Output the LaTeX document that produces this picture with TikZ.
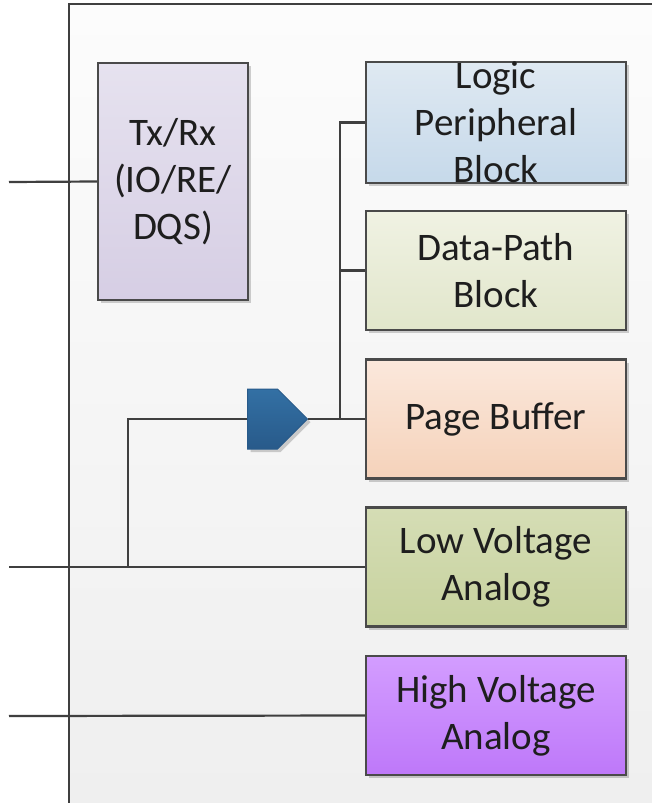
\documentclass[tikz,border=0pt]{standalone}
\usepackage{fontspec}
\setmainfont{Carlito}
\usetikzlibrary{shadows,shapes.symbols}
\definecolor{wirecol}{HTML}{3F3F3F}
\definecolor{boxline}{HTML}{4A4A4A}
\definecolor{txtop}{HTML}{E6E2EF}
\definecolor{txbot}{HTML}{D6CEE4}
\definecolor{lgtop}{HTML}{DFE9F2}
\definecolor{lgbot}{HTML}{C6D9EA}
\definecolor{dptop}{HTML}{F0F2E3}
\definecolor{dpbot}{HTML}{E1E6CB}
\definecolor{pbtop}{HTML}{FBE8DC}
\definecolor{pbbot}{HTML}{F5D2BA}
\definecolor{lvtop}{HTML}{D5DDB5}
\definecolor{lvbot}{HTML}{C7D29E}
\definecolor{hvtop}{HTML}{D39DFF}
\definecolor{hvbot}{HTML}{BE78F9}
\definecolor{amptop}{HTML}{3370A4}
\definecolor{ampbot}{HTML}{285A8A}
\definecolor{bgtop}{HTML}{FCFCFC}
\definecolor{bgbot}{HTML}{EFEFEF}
\definecolor{txtcol}{HTML}{1E1E1E}
\tikzset{
  blockbox/.style={draw=boxline, line width=2.2pt, minimum width=260pt, minimum height=119pt,
    inner sep=0pt, align=center, text=txtcol, font=\fontsize{39}{47}\selectfont,
    drop shadow={shadow xshift=3pt, shadow yshift=-3pt, opacity=0.18, fill=black}},
  wire/.style={draw=wirecol, line width=2.2pt},
}
\begin{document}
\begin{tikzpicture}[x=1pt,y=-1pt]
\useasboundingbox (0,0) rectangle (652,803);
\fill[white] (0,0) rectangle (652,803);
\shade[top color=bgtop, bottom color=bgbot] (69,4) rectangle (652,803);
\draw[wire] (69,803) -- (69,4) -- (652,4);

\node[blockbox, minimum width=150pt, minimum height=237pt, top color=txtop, bottom color=txbot] (txrx) at (173,181.5) {Tx/Rx\\(IO/RE/\\DQS)};
\node[blockbox, top color=lgtop, bottom color=lgbot] (logic) at (496,122.5) {Logic\\Peripheral\\Block};
\node[blockbox, top color=dptop, bottom color=dpbot] (dp) at (496,270.5) {Data-Path\\Block};
\node[blockbox, top color=pbtop, bottom color=pbbot] (pb) at (496,419) {Page Buffer};
\node[blockbox, top color=lvtop, bottom color=lvbot] (lv) at (496,567) {Low Voltage\\Analog};
\node[blockbox, top color=hvtop, bottom color=hvbot] (hv) at (496,715.5) {High Voltage\\Analog};

\node[signal, signal to=east, signal pointer angle=90, minimum width=60pt, minimum height=60pt,
  inner sep=0pt, draw=ampbot, line width=1pt, top color=amptop, bottom color=ampbot, anchor=west,
  drop shadow={shadow xshift=3pt, shadow yshift=-3pt, opacity=0.18, fill=black}] (amp) at (247,419) {};

\coordinate (txin) at (9,182);
\coordinate (lvin) at (9,567);
\coordinate (hvin) at (9,716);
\coordinate (busbot) at (340,419);
\coordinate (jn) at (128,567);

\draw[wire] (txin) -- (txrx.west);
\draw[wire] (logic.west) -| (busbot);
\draw[wire] (dp.west) -- (dp.west -| busbot);
\draw[wire] (amp.east) -- (pb.west);
\draw[wire] (lvin) -- (lv.west);
\draw[wire] (jn) |- (amp.west);
\draw[wire] (hvin) -- (hv.west);
\end{tikzpicture}
\end{document}
